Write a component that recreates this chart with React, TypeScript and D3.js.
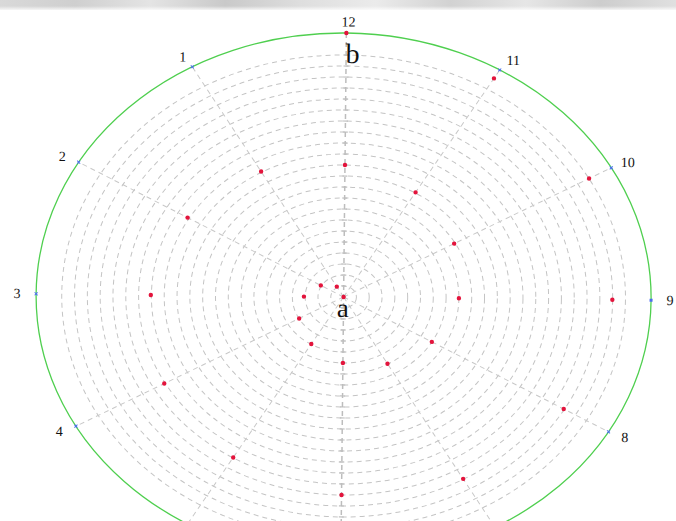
import React from "react";
import * as d3 from "d3";

// data: spiral of points, hour position (1..12) and normalised radius
const pointHours = [12, 1, 2, 3, 4, 5, 6, 7, 8, 9, 10, 11, 12, 1, 2, 3, 4, 5, 6, 7, 8, 9, 10, 11, 12];
const pointRadii = [0, 0.045, 0.086, 0.129, 0.166, 0.207, 0.25, 0.29, 0.333, 0.375, 0.413, 0.461, 0.5,
  0.545, 0.589, 0.627, 0.67, 0.707, 0.75, 0.79, 0.831, 0.874, 0.917, 0.963, 1.0];
// hour labels visible in the picture (5, 6, 7 fall below the bottom edge)
const labelHours = [1, 2, 3, 4, 8, 9, 10, 11, 12];
const spokeHours = [1, 2, 4, 5, 7, 8, 10, 11];
const markerHours = [1, 2, 3, 4, 5, 6, 7, 8, 9, 10, 11];
const ringCount = 22;
const ringDivisions = 24;

const W = 676, H = 521;
const cx = 343.6, cy = 297;
const RX = 307.5, RY = 264;

export default function App() {
  const xr = d3.scaleLinear().domain([0, 1]).range([0, RX]);
  const yr = d3.scaleLinear().domain([0, 1]).range([0, RY]);
  const ang = d3.scaleLinear().domain([0, 12]).range([0, 2 * Math.PI]);
  const px = (h: number, r: number) => cx - xr(r) * Math.sin(ang(h));
  const py = (h: number, r: number) => cy - yr(r) * Math.cos(ang(h));
  const rings = d3.range(1, ringCount + 1).map((k) => k / ringDivisions);

  const grayStops = ["#d9d9d9", "#cfcfcf", "#e4e4e4", "#c9c9c9", "#dedede", "#ebebeb", "#d2d2d2", "#e6e6e6", "#cdcdcd", "#e0e0e0"];

  return (
    <svg width={W} height={H} style={{ position: "fixed", left: 0, top: 0, background: "#fff" }}>
      <defs>
        <linearGradient id="band" x1="0" x2="1" y1="0" y2="0">
          {grayStops.map((c, i) => (
            <stop key={i} offset={i / (grayStops.length - 1)} stopColor={c} />
          ))}
        </linearGradient>
        <linearGradient id="fade" x1="0" x2="0" y1="0" y2="1">
          <stop offset="0" stopColor="#fff" stopOpacity={0} />
          <stop offset="1" stopColor="#fff" stopOpacity={1} />
        </linearGradient>
      </defs>
      <rect x={0} y={0} width={W} height={10} fill="url(#band)" />
      <rect x={0} y={6} width={W} height={5} fill="url(#fade)" />
      <g transform={`rotate(0.6, ${cx}, ${cy})`}>
        {rings.map((r, i) => (
          <ellipse key={i} cx={cx} cy={cy} rx={xr(r)} ry={yr(r)} fill="none"
            stroke="#c4c4c4" strokeWidth={1} strokeDasharray="5,4" />
        ))}
        {spokeHours.map((h) => (
          <line key={h} x1={cx} y1={cy} x2={px(h, 1)} y2={py(h, 1)}
            stroke="#c8c8c8" strokeWidth={1} strokeDasharray="5,4" />
        ))}
        <line x1={px(12, 1)} y1={py(12, 1)} x2={px(6, 1)} y2={py(6, 1)}
          stroke="#bdbdbd" strokeWidth={1.5} strokeDasharray="5,4" />
        {rings.map((r, i) => (
          <g key={"t" + i}>
            <line x1={px(12, r) - 2.5} x2={px(12, r) + 2.5} y1={py(12, r)} y2={py(12, r)} stroke="#bdbdbd" strokeWidth={1.2} />
            <line x1={px(6, r) - 2.5} x2={px(6, r) + 2.5} y1={py(6, r)} y2={py(6, r)} stroke="#bdbdbd" strokeWidth={1.2} />
          </g>
        ))}
        <ellipse cx={cx} cy={cy} rx={xr(1)} ry={yr(1)} fill="none" stroke="#4fcf4f" strokeWidth={1.3} />
        {markerHours.map((h) => {
          const x = px(h, 1), y = py(h, 1);
          return h === 9 ? (
            <rect key={h} x={x - 1.5} y={y - 1.5} width={3} height={3} fill="#4a6cf0" />
          ) : (
            <path key={h} d={`M${x - 1.5},${y - 1.5}L${x + 1.5},${y + 1.5}M${x - 1.5},${y + 1.5}L${x + 1.5},${y - 1.5}`}
              stroke="#4a6cf0" strokeWidth={1} />
          );
        })}
        {pointHours.map((h, i) => (
          <circle key={i} cx={px(h, pointRadii[i])} cy={py(h, pointRadii[i])} r={2.2} fill="#e3143c" />
        ))}
        {labelHours.map((h) => (
          <text key={h}
            x={cx - (RX + 19) * Math.sin(ang(h)) + (h === 12 ? 2 : h === 11 ? 4 : 0)}
            y={cy - (RY + 11) * Math.cos(ang(h))}
            textAnchor="middle" dominantBaseline="central"
            fontFamily="'Liberation Serif', 'DejaVu Serif', serif" fontSize={14} fill="#111">
            {h}
          </text>
        ))}
        <text x={350} y={63} textAnchor="middle" fontFamily="'Liberation Serif', serif" fontSize={28} fill="#111">b</text>
        <text x={343} y={317} textAnchor="middle" fontFamily="'Liberation Serif', serif" fontSize={27} fill="#111">a</text>
      </g>
    </svg>
  );
}
